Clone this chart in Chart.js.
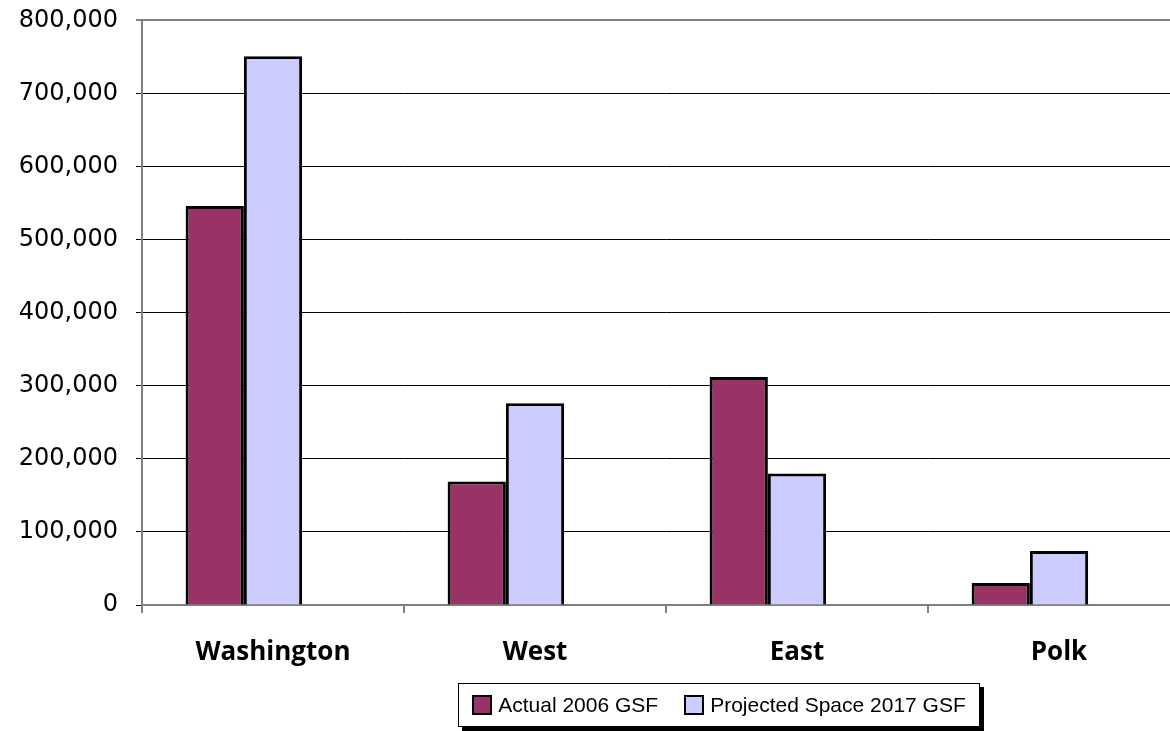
<!DOCTYPE html>
<html>
<head>
<meta charset="utf-8">
<script src="https://cdn.jsdelivr.net/npm/chart.js@4"></script>
<style>
  html, body { margin: 0; padding: 0; background: #fff; overflow: hidden; }
  #wrap { position: relative; width: 1190px; height: 731px; }
  #chart { position: absolute; left: 0; top: -12px; }
  #legend {
    position: absolute; left: 458px; top: 683px; width: 520px; height: 42px;
    border: 1px solid #000; box-shadow: 4px 4px 0 #000; background: #fff;
    display: flex; align-items: center; justify-content: center; gap: 26px;
    font-family: "Liberation Sans", sans-serif; font-size: 21px; white-space: nowrap;
  }
  .item { display: flex; align-items: center; gap: 6px; }
  .sw { width: 16px; height: 16px; border: 2px solid #000; }
</style>
</head>
<body>
<div id="wrap">
  <canvas id="chart" width="1190" height="743"></canvas>
  <div id="legend"></div>
</div>
<script>
const categories = ['Washington', 'West', 'East', 'Polk'];
const actual2006 = [546000, 169000, 312000, 30000];
const projected2017 = [751000, 276000, 180000, 74000];
const yTicks = [0, 100000, 200000, 300000, 400000, 500000, 600000, 700000, 800000];

const seriesNames = ['Actual 2006 GSF', 'Projected Space 2017 GSF'];
const seriesColors = ['#993366', '#CCCCFF'];

const ctx = document.getElementById('chart').getContext('2d');
new Chart(ctx, {
  type: 'bar',
  data: {
    labels: categories,
    datasets: [
      { label: seriesNames[0], data: actual2006, backgroundColor: seriesColors[0], borderColor: '#000', borderWidth: 3 },
      { label: seriesNames[1], data: projected2017, backgroundColor: seriesColors[1], borderColor: '#000', borderWidth: 3 },
      { label: '', data: [null, null, null, null] } // empty slot, as in the original
    ]
  },
  options: {
    responsive: false,
    animation: false,
    layout: { padding: { top: 7, left: 0, right: 0, bottom: 0 } },
    categoryPercentage: 0.667,
    barPercentage: 1,
    plugins: { legend: { display: false }, tooltip: { enabled: false } },
    scales: {
      x: {
        grid: { drawOnChartArea: false, drawTicks: true, tickLength: 8, color: '#808080', lineWidth: 2 },
        border: { color: '#808080', width: 2 },
        ticks: { color: '#000', padding: 24, font: { family: 'Open Sans', size: 26, weight: 'bold' } },
        afterFit: s => { s.height = 126; }
      },
      y: {
        min: 0, max: 800000,
        afterBuildTicks: s => { s.ticks = yTicks.map(v => ({ value: v })); },
        grid: {
          color: c => (c.tick && c.tick.value === 800000) ? '#808080' : '#000',
          lineWidth: c => (c.tick && c.tick.value === 800000) ? 2 : 1,
          tickLength: 6
        },
        border: { color: '#808080', width: 2 },
        ticks: {
          color: '#000', padding: 18,
          font: { family: 'DejaVu Sans', size: 24 },
          callback: v => v.toLocaleString('en-US')
        },
        afterFit: s => { s.width = 142; }
      }
    }
  }
});

const legend = document.getElementById('legend');
seriesNames.forEach((name, i) => {
  const item = document.createElement('div');
  item.className = 'item';
  item.innerHTML = '<span class="sw" style="background:' + seriesColors[i] + '"></span><span>' + name + '</span>';
  legend.appendChild(item);
});
</script>
</body>
</html>
